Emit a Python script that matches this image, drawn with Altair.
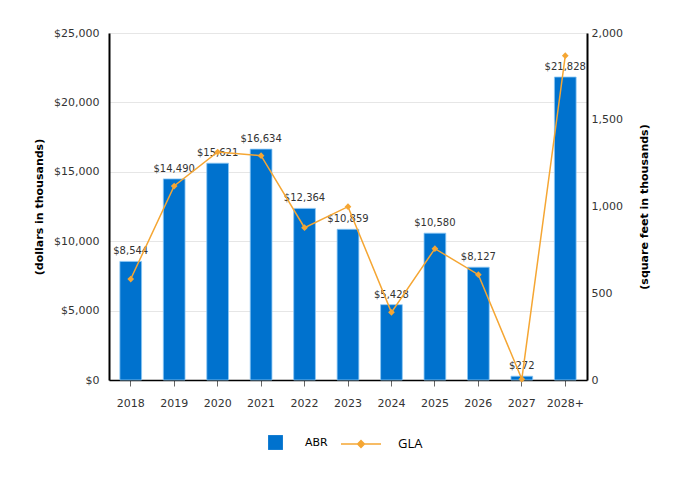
import altair as alt
import pandas as pd

years = ["2018", "2019", "2020", "2021", "2022", "2023", "2024", "2025", "2026", "2027", "2028+"]
abr = [8544, 14490, 15621, 16634, 12364, 10859, 5428, 10580, 8127, 272, 21828]
gla = [582, 1118, 1314, 1293, 878, 999, 390, 757, 607, 5, 1869]

df = pd.DataFrame({"year": years, "ABR": abr, "GLA": gla})
df["abr_label"] = ["$" + format(v, ",") for v in abr]
df["s1"] = "ABR"
df["s2"] = "GLA"

BLUE = "#0072CE"
ORANGE = "#F5A633"
FONT = "DejaVu Sans"

x = alt.X("year:N", sort=years, title=None,
          scale=alt.Scale(paddingInner=0.5, paddingOuter=0.25),
          axis=alt.Axis(labelAngle=0, labelFont=FONT, labelFontSize=11, labelColor="#333",
                        domainColor="#000", domainWidth=1.5, tickColor="#666", tickSize=6,
                        labelPadding=11, grid=False))

bars = alt.Chart(df).mark_bar(color=BLUE, stroke="#8cc8f5", strokeWidth=0.8).encode(
    x=x,
    y=alt.Y("ABR:Q", title="(dollars in thousands)",
            scale=alt.Scale(domain=[0, 25000], nice=False),
            axis=alt.Axis(values=[0, 5000, 10000, 15000, 20000, 25000], format="$,.0f",
                          labelFont=FONT, labelFontSize=11, labelColor="#333",
                          titleFont=FONT, titleFontSize=11, titleFontWeight="bold", titleColor="#000",
                          titlePadding=9, labelPadding=10,
                          ticks=False, domainColor="#000", domainWidth=2,
                          grid=True, gridColor="#e6e6e6")),
    color=alt.Color("s1:N", scale=alt.Scale(domain=["ABR"], range=[BLUE]), title=None,
                    legend=alt.Legend(orient="none", legendX=159, legendY=402, symbolType="square",
                                      symbolSize=220, labelFont=FONT, labelFontSize=11,
                                      labelColor="#000", labelOffset=22, symbolStrokeWidth=0)),
)

labels = alt.Chart(df).mark_text(baseline="bottom", dy=-5, font=FONT, fontSize=10, color="#333").encode(
    x=alt.X("year:N", sort=years),
    y=alt.Y("ABR:Q"),
    text="abr_label:N",
)

left = alt.layer(bars, labels)

line = alt.Chart(df).mark_line(color=ORANGE, strokeWidth=1.5).encode(
    x=alt.X("year:N", sort=years),
    y=alt.Y("GLA:Q", title="(square feet in thousands)",
            scale=alt.Scale(domain=[0, 2000], nice=False),
            axis=alt.Axis(orient="right", values=[0, 500, 1000, 1500, 2000], format=",d",
                          labelFont=FONT, labelFontSize=11, labelColor="#333",
                          titleFont=FONT, titleFontSize=11, titleFontWeight="bold", titleColor="#000",
                          titleAngle=270, titlePadding=27, labelPadding=4,
                          ticks=False, domainColor="#000", domainWidth=2, grid=False)),
    stroke=alt.Stroke("s2:N", scale=alt.Scale(domain=["GLA"], range=[ORANGE]), title=None,
                      legend=alt.Legend(orient="none", legendX=231, legendY=390,
                                        symbolType="M-1,0L-0.17,0L0,-0.17L0.17,0L0,0.17L-0.17,0ZM0.17,0L1,0",
                                        symbolSize=1600, symbolFillColor=ORANGE, symbolStrokeWidth=1.5,
                                        labelFont="Open Sans", labelFontSize=13, labelColor="#000",
                                        labelOffset=16)),
)

pts = alt.Chart(df).mark_point(shape="diamond", filled=True, size=45, color=ORANGE, opacity=1).encode(
    x=alt.X("year:N", sort=years),
    y=alt.Y("GLA:Q"),
)

right = alt.layer(line, pts)

chart = alt.layer(left, right).resolve_scale(y="independent", color="independent").properties(
    width=478, height=347,
    padding={"left": 25, "top": 19, "right": 5, "bottom": 5},
).configure_view(stroke=None).configure(background="white")

chart.save("out.html", embed_options={"renderer": "svg", "actions": False})
